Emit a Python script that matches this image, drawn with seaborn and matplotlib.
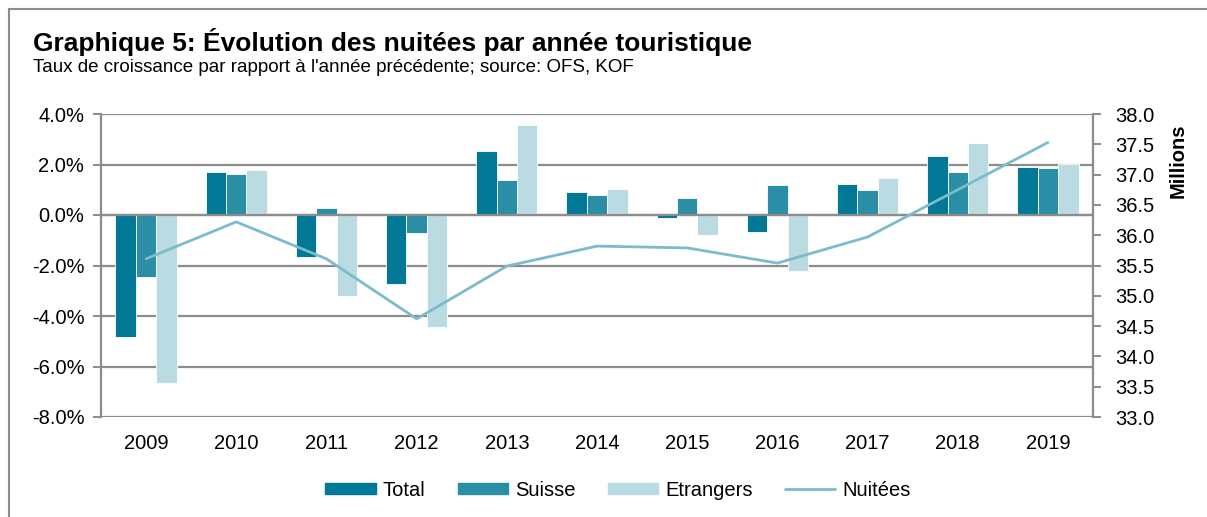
import numpy as np
import pandas as pd
import matplotlib
matplotlib.use("Agg")
import matplotlib.pyplot as plt
import seaborn as sns
from matplotlib.patches import Patch
from matplotlib.lines import Line2D
from matplotlib.ticker import FuncFormatter, MultipleLocator

years = ["2009", "2010", "2011", "2012", "2013", "2014", "2015", "2016", "2017", "2018", "2019"]
total = [-4.83, 1.70, -1.66, -2.73, 2.53, 0.91, -0.10, -0.67, 1.23, 2.33, 1.91]
suisse = [-2.46, 1.62, 0.28, -0.71, 1.39, 0.79, 0.67, 1.18, 0.99, 1.70, 1.86]
etrangers = [-6.65, 1.78, -3.20, -4.43, 3.56, 1.03, -0.79, -2.22, 1.47, 2.86, 2.03]
nuitees = [35.61, 36.22, 35.61, 34.62, 35.49, 35.82, 35.79, 35.54, 35.97, 36.75, 37.53]
series_names = ["Total", "Suisse", "Etrangers"]
line_name = "Nuitées"

c_total = "#007896"
c_suisse = "#2A8FA6"
c_etr = "#BBDBE3"
c_line = "#7BBBCB"
grid_c = "#8C8C8C"

sns.set_theme(style="white")
plt.rcParams["font.family"] = ["Liberation Sans", "DejaVu Sans"]
plt.rcParams["text.color"] = "black"

df = pd.DataFrame({
    "year": years * 3,
    "value": total + suisse + etrangers,
    "series": [series_names[0]] * 11 + [series_names[1]] * 11 + [series_names[2]] * 11,
})
dline = pd.DataFrame({"x": np.arange(len(years)), "v": nuitees})

fig = plt.figure(figsize=(12.07, 5.17), dpi=100)
ax = fig.add_axes([101 / 1207, 1 - 417 / 517, (1093 - 101) / 1207, (417 - 114) / 517])

ax.set_ylim(-8, 4)
ax.yaxis.set_major_locator(MultipleLocator(2))
for yv in np.arange(-8, 4.01, 2):
    ax.axhline(yv, color=grid_c, lw=1.6, zorder=0.5)

sns.barplot(data=df, x="year", y="value", hue="series", palette=[c_total, c_suisse, c_etr],
            width=0.68, gap=0, edgecolor="white", linewidth=0.6, saturation=1,
            ax=ax, legend=False, zorder=2)
ax.axhline(0, color=grid_c, lw=1.6, zorder=3)
ax.set_xlim(-0.5, len(years) - 0.5)
ax.set_xlabel("")
ax.set_ylabel("")
ax.yaxis.set_major_formatter(FuncFormatter(lambda v, p: f"{v:.1f}%"))
for s in ["top", "right", "bottom"]:
    ax.spines[s].set_visible(False)
ax.spines["left"].set_color(grid_c)
ax.spines["left"].set_linewidth(1.6)
ax.tick_params(axis="y", which="major", direction="out", length=6, width=1.4, color=grid_c,
               labelsize=14.5, pad=6, left=True, labelcolor="black")
ax.tick_params(axis="x", length=0, labelsize=14.5, pad=12, labelcolor="black")

ax2 = ax.twinx()
sns.lineplot(data=dline, x="x", y="v", color=c_line, lw=2, ax=ax2, zorder=4)
ax2.set_ylim(33, 38)
ax2.set_xlim(-0.5, len(years) - 0.5)
ax2.yaxis.set_major_locator(MultipleLocator(0.5))
ax2.yaxis.set_major_formatter(FuncFormatter(lambda v, p: f"{v:.1f}"))
ax2.set_xlabel("")
ax2.set_ylabel("")
for s in ["top", "left", "bottom"]:
    ax2.spines[s].set_visible(False)
ax2.spines["right"].set_color(grid_c)
ax2.spines["right"].set_linewidth(1.6)
ax2.tick_params(axis="y", direction="out", length=6, width=1.4, color=grid_c,
                labelsize=14.5, pad=10, right=True, labelcolor="black")
fig.text(1178 / 1207, 1 - 161 / 517, "Millions", rotation=90, fontsize=14.5,
         fontweight="bold", ha="center", va="center")

fig.text(33 / 1207, 1 - 42 / 517, "Graphique 5: Évolution des nuitées par année touristique",
         fontsize=19, fontweight="bold", va="center", ha="left")
fig.text(33 / 1207, 1 - 67 / 517, "Taux de croissance par rapport à l'année précédente; source: OFS, KOF",
         fontsize=13.5, va="center", ha="left")

fig.add_artist(Line2D([9 / 1207, 1.0], [1 - 9 / 517, 1 - 9 / 517], color=grid_c, lw=1.5,
                      transform=fig.transFigure))
fig.add_artist(Line2D([9 / 1207, 9 / 1207], [0, 1 - 9 / 517], color=grid_c, lw=1.5,
                      transform=fig.transFigure))

handles = [Patch(color=c_total), Patch(color=c_suisse), Patch(color=c_etr),
           Line2D([0], [0], color=c_line, lw=2)]
fig.legend(handles, series_names + [line_name], loc="center", ncol=4,
           bbox_to_anchor=(618 / 1207, 1 - 490 / 517), frameon=False, fontsize=14.5,
           handlelength=2.5, handleheight=0.5, columnspacing=1.6, handletextpad=0.35)

fig.savefig("out.png", dpi=100)
